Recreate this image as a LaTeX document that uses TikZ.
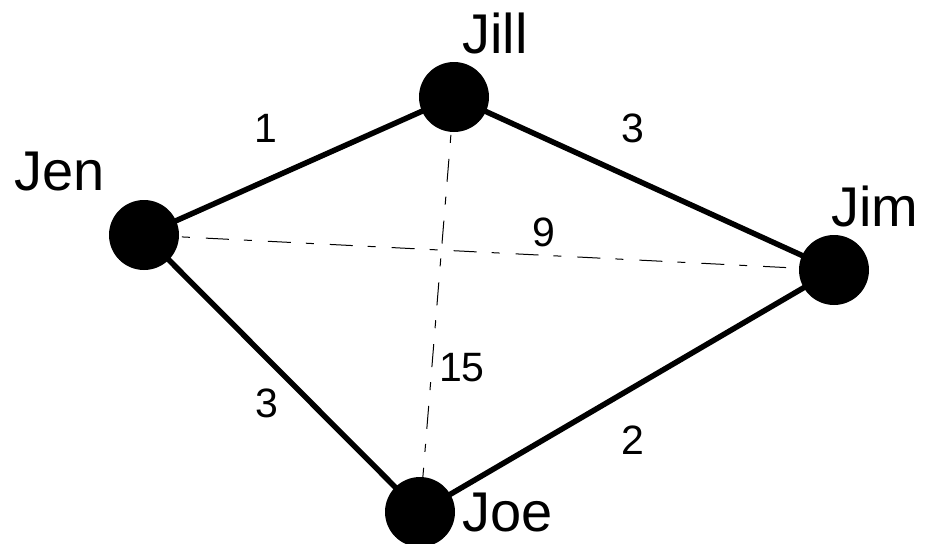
\documentclass[tikz,border=0pt]{standalone}
\usepackage{fontspec}
\setmainfont{Liberation Sans}
\usetikzlibrary{backgrounds}
\tikzset{
  person/.style={circle, fill=black, minimum size=70pt, inner sep=0pt},
  namelabel/.style={font=\fontsize{56}{66}\selectfont, inner sep=0pt},
  weight/.style={font=\fontsize{41}{49}\selectfont, inner sep=0pt},
  road/.style={line width=5.5pt},
  flight/.style={line width=1pt, dash pattern=on 23pt off 15pt on 8pt off 16pt},
}
\begin{document}
\begin{tikzpicture}[x=1pt,y=-1pt]
\useasboundingbox (0,0) rectangle (930,544);
\node[person] (jen) at (144,235) {};
\node[person] (jill) at (454,97) {};
\node[person] (jim) at (834,270) {};
\node[person] (joe) at (420,512) {};
\begin{scope}[on background layer]
\draw[road] (jen.center) -- (jill.center);
\draw[road] (jill.center) -- (jim.center);
\draw[road] (jim.center) -- (joe.center);
\draw[road] (joe.center) -- (jen.center);
\draw[flight] (jen.center) -- (jim.center);
\draw[flight] (jill.center) -- (joe.center);
\end{scope}
\node[namelabel] (ljen) at (60,172) {Jen};
\node[namelabel] (ljill) at (495,33) {Jill};
\node[namelabel] (ljim) at (875,206) {Jim};
\node[namelabel] (ljoe) at (508,513) {Joe};
\node[weight] (w1) at (266,128) {1};
\node[weight] (w2) at (633,128) {3};
\node[weight] (w3) at (544,232) {9};
\node[weight] (w4) at (462,368) {15};
\node[weight] (w5) at (267,403) {3};
\node[weight] (w6) at (633,440) {2};
\end{tikzpicture}
\end{document}
